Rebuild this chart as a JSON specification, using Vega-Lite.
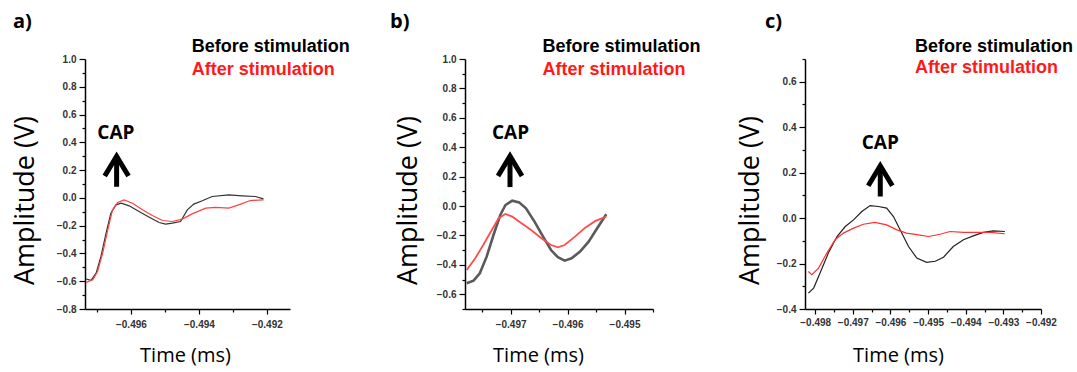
{
  "$schema": "https://vega.github.io/schema/vega-lite/v6.json",
  "background": "white",
  "padding": {"left": 10, "top": 11, "right": 2, "bottom": 2},
  "config": {
    "view": {"stroke": null},
    "axis": {
      "grid": false, "domainColor": "#000", "domainWidth": 1.5, "tickColor": "#000", "tickWidth": 1.2,
      "labelFont": "Liberation Sans", "labelFontWeight": "bold", "labelFontSize": 10, "labelColor": "#333",
      "labelFlush": false, "labelOverlap": false,
      "titleFont": "Open Sans", "titleFontWeight": "normal", "titleColor": "#000"
    },
    "title": {"anchor": "start", "frame": "group", "fontSize": 20, "fontWeight": "bold", "font": "Open Sans", "color": "#000", "offset": 6}
  },
  "datasets": {
    "a": [
      {"s": "Before", "t": -0.49732, "v": -0.584}, {"s": "Before", "t": -0.49717, "v": -0.594}, {"s": "Before", "t": -0.49702, "v": -0.54},
      {"s": "Before", "t": -0.49688, "v": -0.42}, {"s": "Before", "t": -0.49673, "v": -0.254}, {"s": "Before", "t": -0.49659, "v": -0.11},
      {"s": "Before", "t": -0.49644, "v": -0.05}, {"s": "Before", "t": -0.49629, "v": -0.038}, {"s": "Before", "t": -0.49605, "v": -0.057},
      {"s": "Before", "t": -0.49576, "v": -0.098}, {"s": "Before", "t": -0.49546, "v": -0.139}, {"s": "Before", "t": -0.49517, "v": -0.177},
      {"s": "Before", "t": -0.49498, "v": -0.189}, {"s": "Before", "t": -0.49478, "v": -0.182}, {"s": "Before", "t": -0.49454, "v": -0.17},
      {"s": "Before", "t": -0.49434, "v": -0.086}, {"s": "Before", "t": -0.49415, "v": -0.045}, {"s": "Before", "t": -0.4939, "v": -0.021},
      {"s": "Before", "t": -0.49361, "v": 0.01}, {"s": "Before", "t": -0.49312, "v": 0.022}, {"s": "Before", "t": -0.49273, "v": 0.015},
      {"s": "Before", "t": -0.49234, "v": 0.01}, {"s": "Before", "t": -0.4921, "v": -0.007},
      {"s": "After", "t": -0.49732, "v": -0.608}, {"s": "After", "t": -0.49712, "v": -0.589}, {"s": "After", "t": -0.49698, "v": -0.53},
      {"s": "After", "t": -0.49683, "v": -0.397}, {"s": "After", "t": -0.49668, "v": -0.23}, {"s": "After", "t": -0.49654, "v": -0.086},
      {"s": "After", "t": -0.49639, "v": -0.033}, {"s": "After", "t": -0.4962, "v": -0.014}, {"s": "After", "t": -0.49595, "v": -0.038},
      {"s": "After", "t": -0.49566, "v": -0.086}, {"s": "After", "t": -0.49537, "v": -0.127}, {"s": "After", "t": -0.49507, "v": -0.163},
      {"s": "After", "t": -0.49478, "v": -0.17}, {"s": "After", "t": -0.49449, "v": -0.153}, {"s": "After", "t": -0.4942, "v": -0.115},
      {"s": "After", "t": -0.4938, "v": -0.074}, {"s": "After", "t": -0.49351, "v": -0.069}, {"s": "After", "t": -0.49312, "v": -0.074},
      {"s": "After", "t": -0.49283, "v": -0.05}, {"s": "After", "t": -0.49249, "v": -0.019}, {"s": "After", "t": -0.4921, "v": -0.014}
    ],
    "b": [
      {"s": "Before", "t": -0.49777, "v": -0.525}, {"s": "Before", "t": -0.49765, "v": -0.507}, {"s": "Before", "t": -0.49754, "v": -0.457},
      {"s": "Before", "t": -0.49742, "v": -0.344}, {"s": "Before", "t": -0.4973, "v": -0.197}, {"s": "Before", "t": -0.49718, "v": -0.061},
      {"s": "Before", "t": -0.49709, "v": 0.007}, {"s": "Before", "t": -0.49697, "v": 0.037}, {"s": "Before", "t": -0.49685, "v": 0.025},
      {"s": "Before", "t": -0.49673, "v": -0.015}, {"s": "Before", "t": -0.49658, "v": -0.106}, {"s": "Before", "t": -0.49643, "v": -0.208},
      {"s": "Before", "t": -0.49629, "v": -0.299}, {"s": "Before", "t": -0.49617, "v": -0.348}, {"s": "Before", "t": -0.49605, "v": -0.371},
      {"s": "Before", "t": -0.49593, "v": -0.355}, {"s": "Before", "t": -0.49578, "v": -0.31}, {"s": "Before", "t": -0.49563, "v": -0.242},
      {"s": "Before", "t": -0.49548, "v": -0.151}, {"s": "Before", "t": -0.49532, "v": -0.056},
      {"s": "After", "t": -0.49777, "v": -0.435}, {"s": "After", "t": -0.49762, "v": -0.355}, {"s": "After", "t": -0.49748, "v": -0.265},
      {"s": "After", "t": -0.49733, "v": -0.163}, {"s": "After", "t": -0.49721, "v": -0.083}, {"s": "After", "t": -0.49709, "v": -0.054},
      {"s": "After", "t": -0.49697, "v": -0.072}, {"s": "After", "t": -0.49682, "v": -0.113}, {"s": "After", "t": -0.49664, "v": -0.163},
      {"s": "After", "t": -0.49646, "v": -0.219}, {"s": "After", "t": -0.49629, "v": -0.265}, {"s": "After", "t": -0.49617, "v": -0.28},
      {"s": "After", "t": -0.49605, "v": -0.265}, {"s": "After", "t": -0.49587, "v": -0.208}, {"s": "After", "t": -0.49569, "v": -0.147},
      {"s": "After", "t": -0.49551, "v": -0.101}, {"s": "After", "t": -0.49532, "v": -0.072}
    ],
    "c": [
      {"s": "Before", "t": -0.49818, "v": -0.33}, {"s": "Before", "t": -0.49804, "v": -0.308}, {"s": "Before", "t": -0.49787, "v": -0.242},
      {"s": "Before", "t": -0.49765, "v": -0.154}, {"s": "Before", "t": -0.49742, "v": -0.081}, {"s": "Before", "t": -0.4972, "v": -0.037},
      {"s": "Before", "t": -0.49698, "v": -0.008}, {"s": "Before", "t": -0.49676, "v": 0.029}, {"s": "Before", "t": -0.49654, "v": 0.055},
      {"s": "Before", "t": -0.49632, "v": 0.051}, {"s": "Before", "t": -0.4961, "v": 0.044}, {"s": "Before", "t": -0.49592, "v": 0.007},
      {"s": "Before", "t": -0.49574, "v": -0.052}, {"s": "Before", "t": -0.49552, "v": -0.125}, {"s": "Before", "t": -0.4953, "v": -0.176},
      {"s": "Before", "t": -0.49504, "v": -0.195}, {"s": "Before", "t": -0.49481, "v": -0.19}, {"s": "Before", "t": -0.49459, "v": -0.172},
      {"s": "Before", "t": -0.49433, "v": -0.125}, {"s": "Before", "t": -0.49406, "v": -0.095}, {"s": "Before", "t": -0.4938, "v": -0.078},
      {"s": "Before", "t": -0.49353, "v": -0.063}, {"s": "Before", "t": -0.49327, "v": -0.056}, {"s": "Before", "t": -0.49296, "v": -0.059},
      {"s": "After", "t": -0.49818, "v": -0.235}, {"s": "After", "t": -0.49809, "v": -0.249}, {"s": "After", "t": -0.49791, "v": -0.22},
      {"s": "After", "t": -0.49769, "v": -0.154}, {"s": "After", "t": -0.49747, "v": -0.095}, {"s": "After", "t": -0.49725, "v": -0.066},
      {"s": "After", "t": -0.49698, "v": -0.044}, {"s": "After", "t": -0.49672, "v": -0.027}, {"s": "After", "t": -0.49641, "v": -0.019},
      {"s": "After", "t": -0.4961, "v": -0.03}, {"s": "After", "t": -0.49583, "v": -0.052}, {"s": "After", "t": -0.49557, "v": -0.066},
      {"s": "After", "t": -0.4953, "v": -0.073}, {"s": "After", "t": -0.49499, "v": -0.081}, {"s": "After", "t": -0.49468, "v": -0.071},
      {"s": "After", "t": -0.49442, "v": -0.059}, {"s": "After", "t": -0.49406, "v": -0.063}, {"s": "After", "t": -0.49371, "v": -0.063},
      {"s": "After", "t": -0.49335, "v": -0.063}, {"s": "After", "t": -0.49296, "v": -0.069}
    ],
    "aArrow": [
      {"g": "h", "o": 1, "t": -0.49677, "v": 0.158}, {"g": "h", "o": 2, "t": -0.49642, "v": 0.30}, {"g": "h", "o": 3, "t": -0.49607, "v": 0.158},
      {"g": "s", "o": 1, "t": -0.49642, "v": 0.30}, {"g": "s", "o": 2, "t": -0.49642, "v": 0.08}
    ],
    "bArrow": [
      {"g": "h", "o": 1, "t": -0.49722, "v": 0.204}, {"g": "h", "o": 2, "t": -0.49701, "v": 0.34}, {"g": "h", "o": 3, "t": -0.4968, "v": 0.204},
      {"g": "s", "o": 1, "t": -0.49701, "v": 0.34}, {"g": "s", "o": 2, "t": -0.49701, "v": 0.129}
    ],
    "cArrow": [
      {"g": "h", "o": 1, "t": -0.49659, "v": 0.142}, {"g": "h", "o": 2, "t": -0.49627, "v": 0.23}, {"g": "h", "o": 3, "t": -0.49595, "v": 0.142},
      {"g": "s", "o": 1, "t": -0.49627, "v": 0.23}, {"g": "s", "o": 2, "t": -0.49627, "v": 0.095}
    ],
    "aText": [
      {"s": "Before", "label": "Before stimulation", "t": -0.49421, "v": 1.083},
      {"s": "After", "label": "After stimulation", "t": -0.49421, "v": 0.921}
    ],
    "bText": [
      {"s": "Before", "label": "Before stimulation", "t": -0.49644, "v": 1.082},
      {"s": "After", "label": "After stimulation", "t": -0.49644, "v": 0.925}
    ],
    "cText": [
      {"s": "Before", "label": "Before stimulation", "t": -0.49535, "v": 0.754},
      {"s": "After", "label": "After stimulation", "t": -0.49535, "v": 0.662}
    ],
    "aCap": [{"label": "CAP", "t": -0.49644, "v": 0.465}],
    "bCap": [{"label": "CAP", "t": -0.497, "v": 0.495}],
    "cCap": [{"label": "CAP", "t": -0.49627, "v": 0.329}]
  },
  "spacing": 175,
  "bounds": "flush",
  "hconcat": [
    {
      "width": 205, "height": 250,
      "title": {"text": "a)", "dx": -72},
      "layer": [
        {
          "data": {"name": "a"},
          "mark": {"type": "line", "strokeWidth": 1.2},
          "encoding": {
            "x": {"field": "t", "type": "quantitative", "scale": {"domain": [-0.49735, -0.49132], "nice": false, "zero": false},
              "axis": {"title": "Time (ms)", "titleFontSize": 20, "titleX": 100, "titleY": 36, "labelOverlap": false, "tickCount": 100,
                "values": [-0.497, -0.496, -0.495, -0.494, -0.493, -0.492],
                "labelExpr": "abs(round(datum.value*1000))%2==0 ? format(datum.value,'.3f') : ''",
                "tickSize": {"condition": {"test": "abs(round(datum.value*1000))%2==0", "value": 5}, "value": 3},
                "labelPadding": 5, "labelFontSize": 10}},
            "y": {"field": "v", "type": "quantitative", "scale": {"domain": [-0.8, 1.0], "nice": false, "zero": false},
              "axis": {"title": "Amplitude (V)", "titleFontSize": 27, "titleX": -46, "titleY": 141, "labelOverlap": false, "tickCount": 100,
                "values": [-0.8, -0.7, -0.6, -0.5, -0.4, -0.3, -0.2, -0.1, 0, 0.1, 0.2, 0.3, 0.4, 0.5, 0.6, 0.7, 0.8, 0.9, 1.0],
                "labelExpr": "abs(round(datum.value*10))%2==0 ? format(datum.value,'.1f') : ''",
                "tickSize": {"condition": {"test": "abs(round(datum.value*10))%2==0", "value": 6}, "value": 3},
                "labelPadding": 3}},
            "detail": {"field": "s"},
            "color": {"condition": {"test": "datum.s=='After'", "value": "#ff4040"}, "value": "#333333"}
          }
        },
        {
          "data": {"name": "aArrow"},
          "mark": {"type": "line", "strokeWidth": 5, "color": "#000", "strokeJoin": "miter", "strokeCap": "butt"},
          "encoding": {"x": {"field": "t", "type": "quantitative"}, "y": {"field": "v", "type": "quantitative"}, "detail": {"field": "g"}, "order": {"field": "o"}}
        },
        {
          "data": {"name": "aCap"},
          "mark": {"type": "text", "font": "Open Sans", "fontWeight": "bold", "fontSize": 19, "color": "#000", "baseline": "middle"},
          "encoding": {"x": {"field": "t", "type": "quantitative"}, "y": {"field": "v", "type": "quantitative"}, "text": {"field": "label"}}
        },
        {
          "data": {"name": "aText"},
          "mark": {"type": "text", "font": "Liberation Sans", "fontWeight": "bold", "fontSize": 18, "align": "left", "baseline": "middle"},
          "encoding": {"x": {"field": "t", "type": "quantitative"}, "y": {"field": "v", "type": "quantitative"}, "text": {"field": "label"},
            "color": {"condition": {"test": "datum.s=='After'", "value": "#ff1a1a"}, "value": "#000000"}}
        }
      ]
    },
    {
      "spacing": 152,
      "bounds": "flush",
      "hconcat": [
        {
          "width": 188, "height": 250,
          "title": {"text": "b)", "dx": -75},
          "layer": [
            {
              "data": {"name": "b"},
              "mark": {"type": "line"},
              "encoding": {
                "x": {"field": "t", "type": "quantitative", "scale": {"domain": [-0.4978, -0.4945], "nice": false, "zero": false},
                  "axis": {"title": "Time (ms)", "titleFontSize": 20, "titleX": 73, "titleY": 36, "labelOverlap": false, "tickCount": 100,
                    "values": [-0.4975, -0.497, -0.4965, -0.496, -0.4955, -0.495, -0.4945],
                    "labelExpr": "abs(round(datum.value*2000))%2==0 ? format(datum.value,'.3f') : ''",
                    "tickSize": {"condition": {"test": "abs(round(datum.value*2000))%2==0", "value": 5}, "value": 3},
                    "labelPadding": 5, "labelFontSize": 10}},
                "y": {"field": "v", "type": "quantitative", "scale": {"domain": [-0.7, 1.0], "nice": false, "zero": false},
                  "axis": {"title": "Amplitude (V)", "titleFontSize": 27, "titleX": -43, "titleY": 141, "labelOverlap": false, "tickCount": 100,
                    "values": [-0.7, -0.6, -0.5, -0.4, -0.3, -0.2, -0.1, 0, 0.1, 0.2, 0.3, 0.4, 0.5, 0.6, 0.7, 0.8, 0.9, 1.0],
                    "labelExpr": "abs(round(datum.value*10))%2==0 ? format(datum.value,'.1f') : ''",
                    "tickSize": {"condition": {"test": "abs(round(datum.value*10))%2==0", "value": 6}, "value": 3},
                    "labelPadding": 3}},
                "detail": {"field": "s"},
                "color": {"condition": {"test": "datum.s=='After'", "value": "#ff4d4d"}, "value": "#5a5a5a"},
                "strokeWidth": {"condition": {"test": "datum.s=='After'", "value": 1.8}, "value": 2.6}
              }
            },
            {
              "data": {"name": "bArrow"},
              "mark": {"type": "line", "strokeWidth": 5, "color": "#000", "strokeJoin": "miter", "strokeCap": "butt"},
              "encoding": {"x": {"field": "t", "type": "quantitative"}, "y": {"field": "v", "type": "quantitative"}, "detail": {"field": "g"}, "order": {"field": "o"}}
            },
            {
              "data": {"name": "bCap"},
              "mark": {"type": "text", "font": "Open Sans", "fontWeight": "bold", "fontSize": 19, "color": "#000", "baseline": "middle"},
              "encoding": {"x": {"field": "t", "type": "quantitative"}, "y": {"field": "v", "type": "quantitative"}, "text": {"field": "label"}}
            },
            {
              "data": {"name": "bText"},
              "mark": {"type": "text", "font": "Liberation Sans", "fontWeight": "bold", "fontSize": 18, "align": "left", "baseline": "middle"},
              "encoding": {"x": {"field": "t", "type": "quantitative"}, "y": {"field": "v", "type": "quantitative"}, "text": {"field": "label"},
                "color": {"condition": {"test": "datum.s=='After'", "value": "#ff1a1a"}, "value": "#000000"}}
            }
          ]
        },
        {
          "width": 236, "height": 250,
          "title": {"text": "c)", "dx": -40},
          "layer": [
            {
              "data": {"name": "c"},
              "mark": {"type": "line", "strokeWidth": 1.2},
              "encoding": {
                "x": {"field": "t", "type": "quantitative", "scale": {"domain": [-0.49827, -0.492], "nice": false, "zero": false},
                  "axis": {"title": "Time (ms)", "titleFontSize": 20, "titleX": 93, "titleY": 36, "labelOverlap": false, "tickCount": 100,
                    "values": [-0.498, -0.4975, -0.497, -0.4965, -0.496, -0.4955, -0.495, -0.4945, -0.494, -0.4935, -0.493, -0.4925, -0.492],
                    "labelExpr": "abs(round(datum.value*2000))%2==0 ? format(datum.value,'.3f') : ''",
                    "tickSize": {"condition": {"test": "abs(round(datum.value*2000))%2==0", "value": 5}, "value": 3},
                    "labelPadding": 3, "labelFontSize": 10}},
                "y": {"field": "v", "type": "quantitative", "scale": {"domain": [-0.4, 0.7], "nice": false, "zero": false},
                  "axis": {"title": "Amplitude (V)", "titleFontSize": 27, "titleX": -41, "titleY": 141, "labelOverlap": false, "tickCount": 100,
                    "values": [-0.4, -0.3, -0.2, -0.1, 0, 0.1, 0.2, 0.3, 0.4, 0.5, 0.6, 0.7],
                    "labelExpr": "abs(round(datum.value*10))%2==0 ? format(datum.value,'.1f') : ''",
                    "tickSize": {"condition": {"test": "abs(round(datum.value*10))%2==0", "value": 6}, "value": 3},
                    "labelPadding": 3}},
                "detail": {"field": "s"},
                "color": {"condition": {"test": "datum.s=='After'", "value": "#ff3030"}, "value": "#222222"}
              }
            },
            {
              "data": {"name": "cArrow"},
              "mark": {"type": "line", "strokeWidth": 5, "color": "#000", "strokeJoin": "miter", "strokeCap": "butt"},
              "encoding": {"x": {"field": "t", "type": "quantitative"}, "y": {"field": "v", "type": "quantitative"}, "detail": {"field": "g"}, "order": {"field": "o"}}
            },
            {
              "data": {"name": "cCap"},
              "mark": {"type": "text", "font": "Open Sans", "fontWeight": "bold", "fontSize": 19, "color": "#000", "baseline": "middle"},
              "encoding": {"x": {"field": "t", "type": "quantitative"}, "y": {"field": "v", "type": "quantitative"}, "text": {"field": "label"}}
            },
            {
              "data": {"name": "cText"},
              "mark": {"type": "text", "font": "Liberation Sans", "fontWeight": "bold", "fontSize": 18, "align": "left", "baseline": "middle"},
              "encoding": {"x": {"field": "t", "type": "quantitative"}, "y": {"field": "v", "type": "quantitative"}, "text": {"field": "label"},
                "color": {"condition": {"test": "datum.s=='After'", "value": "#ff1a1a"}, "value": "#000000"}}
            }
          ]
        }
      ]
    }
  ]
}
